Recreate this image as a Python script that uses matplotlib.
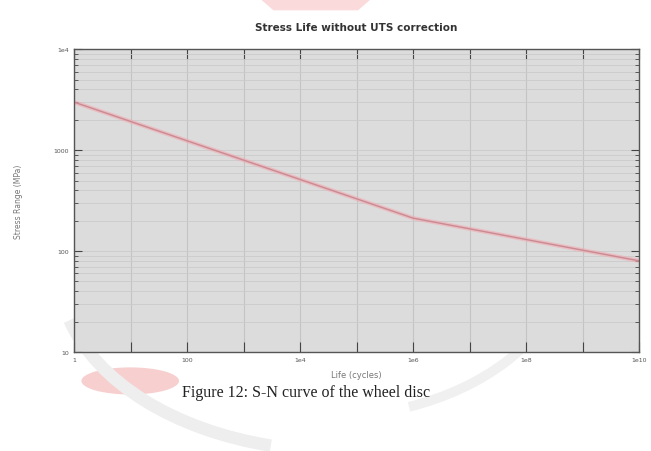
import numpy as np
import matplotlib.pyplot as plt
from matplotlib.patches import Polygon, Arc, Ellipse
from matplotlib.ticker import FixedLocator, LogLocator, NullFormatter

# S-N curve
life = [1, 1e6, 1e10]
stress = [2990, 212, 80]

x_ticks = [1, 1e2, 1e4, 1e6, 1e8, 1e10]
x_labels = ['1', '100', '1e4', '1e6', '1e8', '1e10']
y_ticks = [10, 100, 1000, 1e4]
y_labels = ['10', '100', '1000', '1e4']

fig = plt.figure(figsize=(6.51, 4.52), dpi=100)
fig.patch.set_facecolor('white')

# faint watermark of the journal page, on a background axes
bg = fig.add_axes([0, 0, 1, 1], zorder=-1)
bg.set_xlim(0, 1)
bg.set_ylim(0, 1)
bg.axis('off')
bg.add_patch(Polygon([[0.40, 1.0], [0.57, 1.0], [0.55, 0.975], [0.42, 0.975]],
                     closed=True, facecolor='#fadada', edgecolor='none'))
bg.add_patch(Ellipse((0.20, 0.155), 0.15, 0.06, facecolor='#f5c4c4',
                     edgecolor='none', alpha=0.8))
bg.add_patch(Arc((0.52, 0.40), 0.86, 0.80, theta1=195, theta2=255,
                 color='#eeeeee', lw=9))
bg.add_patch(Arc((0.50, 0.45), 0.75, 0.75, theta1=290, theta2=345,
                 color='#f0f0f0', lw=7))

ax = fig.add_axes([0.1137, 0.219, 0.868, 0.670])
ax.set_facecolor('#dcdcdc')

ax.plot(life, stress, color='#f4a9b0', lw=3.0, alpha=0.6, solid_capstyle='butt')
ax.plot(life, stress, color='#c98a94', lw=1.0)

ax.set_xscale('log')
ax.set_yscale('log')
ax.set_xlim(1, 1e10)
ax.set_ylim(10, 1e4)

ax.set_xticks(x_ticks, x_labels)
ax.xaxis.set_minor_locator(FixedLocator([10.0 ** k for k in range(1, 10, 2)]))
ax.xaxis.set_minor_formatter(NullFormatter())
ax.set_yticks(y_ticks, y_labels)
ax.yaxis.set_minor_locator(LogLocator(base=10, subs=np.arange(2, 10)))
ax.yaxis.set_minor_formatter(NullFormatter())

ax.tick_params(axis='both', which='both', direction='in', top=True, right=True,
               labelsize=4.5, labelcolor='#555555', color='#444444')
ax.tick_params(axis='x', which='both', length=7, width=0.8)
ax.tick_params(axis='y', which='major', length=6)
ax.tick_params(axis='y', which='minor', length=3)

ax.grid(True, axis='x', which='both', color='#c4c4c4', lw=0.8)
ax.grid(True, axis='y', which='both', color='#cbcbcb', lw=0.6)
for s in ax.spines.values():
    s.set_color('#555555')
    s.set_linewidth(1.0)

ax.set_title('Stress Life without UTS correction', fontsize=7.5,
             fontweight='bold', color='#333333', pad=14)
ax.set_xlabel('Life (cycles)', fontsize=6, color='#777777', labelpad=6)
ax.set_ylabel('Stress Range (MPa)', fontsize=5.5, color='#777777', labelpad=22)

fig.text(0.47, 0.13, 'Figure 12: S-N curve of the wheel disc',
         family='Liberation Serif', fontsize=11.5, ha='center', va='center',
         color='#222222')

fig.savefig('out.png', dpi=100)
